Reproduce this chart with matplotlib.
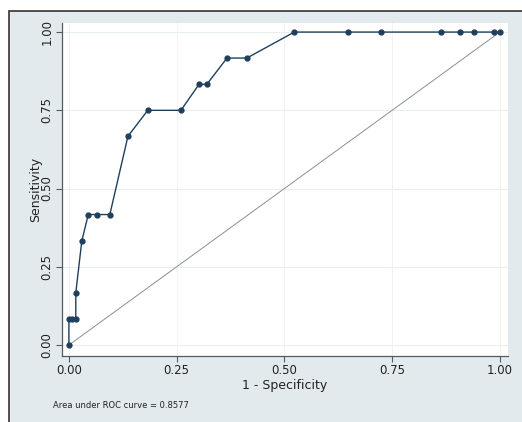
import matplotlib
matplotlib.use("Agg")
import matplotlib.pyplot as plt
from matplotlib.patches import Rectangle

# ROC curve points
fpr = [0.0, 0.0, 0.008, 0.016, 0.016, 0.030, 0.045, 0.065, 0.095,
       0.137, 0.183, 0.260, 0.302, 0.320, 0.367, 0.413, 0.523,
       0.647, 0.724, 0.863, 0.908, 0.940, 0.987, 1.0]
tpr = [0.0, 0.083, 0.083, 0.083, 0.167, 0.333, 0.417, 0.417, 0.417,
       0.667, 0.75, 0.75, 0.833, 0.833, 0.917, 0.917, 1.0,
       1.0, 1.0, 1.0, 1.0, 1.0, 1.0, 1.0]

ticks = [0.0, 0.25, 0.5, 0.75, 1.0]
tick_labels = ["0.00", "0.25", "0.50", "0.75", "1.00"]
auc_note = "Area under ROC curve = 0.8577"

BG = "#e3eaed"
NAVY = "#1f3f5f"

fig = plt.figure(figsize=(5.22, 4.22), dpi=100)
fig.patch.set_facecolor("white")
# Stata-style graph region: grey-blue, dark border on top and left
fig.patches.append(Rectangle((9 / 522, -0.05), 1.2, 1 - 11 / 422 + 0.05,
                             transform=fig.transFigure, facecolor=BG,
                             edgecolor="#333333", linewidth=1.2, zorder=-10))

ax = fig.add_axes([62 / 522, 1 - 356 / 422, 446 / 522, 333 / 422])
ax.set_zorder(5)
ax.set_facecolor("white")
ax.set_xlim(-0.016, 1.019)
ax.set_ylim(-0.035, 1.029)

for t in ticks:
    ax.axhline(t, color="#eaeef0", linewidth=0.8, zorder=0)
    ax.axvline(t, color="#f0f2f3", linewidth=0.8, zorder=0)

ax.plot([0, 1], [0, 1], color="#8a8f94", linewidth=0.7, zorder=1)
ax.plot(fpr, tpr, color=NAVY, linewidth=1.0, marker="o", markersize=3.5,
        markerfacecolor=NAVY, markeredgecolor=NAVY, zorder=2)

for side in ["top", "right"]:
    ax.spines[side].set_visible(False)
for side in ["left", "bottom"]:
    ax.spines[side].set_color("#555b60")
    ax.spines[side].set_linewidth(0.9)

ax.set_xticks(ticks)
ax.set_xticklabels(tick_labels, fontsize=8.5, color="#222222")
ax.set_yticks(ticks)
ax.set_yticklabels(tick_labels, fontsize=8.5, color="#222222",
                   rotation=90, va="center")
ax.tick_params(direction="out", length=4, width=0.8, color="#555b60", pad=2)

ax.set_xlabel("1 - Specificity", fontsize=9, color="#222222", labelpad=1)
ax.set_ylabel("Sensitivity", fontsize=9, color="#222222", labelpad=-1)

fig.text(53 / 522, 1 - 405 / 422, auc_note, fontsize=6, color="#222222",
         ha="left", va="center")

fig.savefig("out.png", dpi=100, facecolor=fig.get_facecolor())
